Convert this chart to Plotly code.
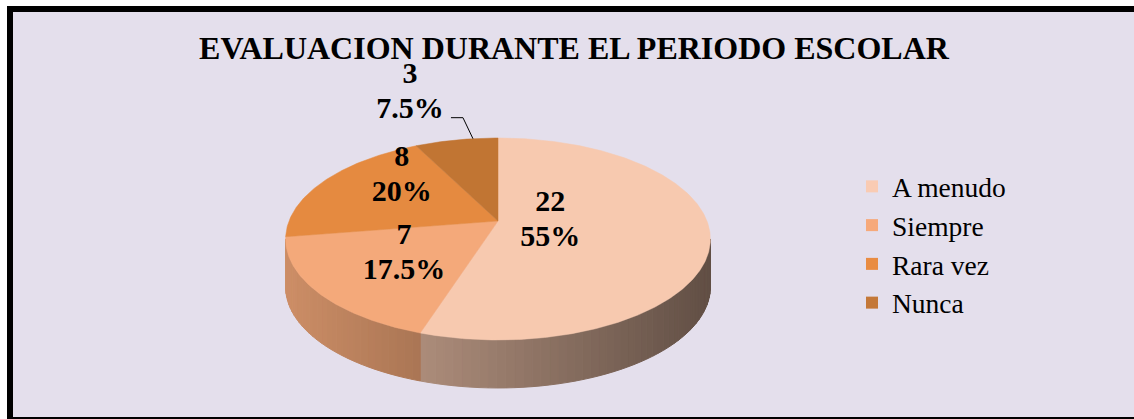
import numpy as np
import plotly.graph_objects as go

# ---------------- data ----------------
categories = ["A menudo", "Siempre", "Rara vez", "Nunca"]
values = [22, 7, 8, 3]
title_text = "EVALUACION DURANTE EL PERIODO ESCOLAR"

# ---------------- styles ----------------
top_colors = ["#F7C9AF", "#F4A97A", "#E58A40", "#C17533"]
legend_colors = ["#F9CBB3", "#F6A97A", "#E98C42", "#C47838"]
label_frac = [0.46, 0.56, 0.75, 0.7]        # where along each slice the label sits
label_radius = [0.25, 0.53, 0.71, None]     # None -> outside label with leader
BG = "#E4DFEC"
FONT = "Liberation Serif"

W, H = 1134, 419
CX, CY = 498.0, 221.0          # apex (pie centre) in pixels
RA, RB, K = 209.0, 97.8, 0.178  # half-width, vertical scale, perspective
DEPTH = 48.0                    # visible side height


def proj(X, Y):
    d = 1.0 + K * Y
    return CX + RA * X / d, CY - RB * Y / d


def rim(t_deg, r=1.0):
    t = np.radians(t_deg)
    return proj(r * np.sin(t), r * np.cos(t))


def hex_rgb(h):
    h = h.lstrip("#")
    return [int(h[i:i + 2], 16) for i in (0, 2, 4)]


def shade(hexcol, x):
    f = 0.84 - 0.00105 * (x - 286.0)
    f = min(max(f, 0.3), 0.95)
    r, g, b = hex_rgb(hexcol)
    return f"rgb({int(r*f)},{int(g*f)},{int(b*f)})"


total = float(sum(values))
fracs = [v / total for v in values]
ends = np.cumsum(fracs) * 360.0
starts = np.concatenate([[0.0], ends[:-1]])
pct_labels = [f"{f*100:g}%" for f in fracs]

fig = go.Figure()

# visible side range (leftmost/rightmost silhouette points)
t_right = np.degrees(np.arctan2(np.sqrt(1 - K * K), -K))
t_left = 360.0 - t_right

# ---- side walls ----
for i, (s, e) in enumerate(zip(starts, ends)):
    a0, a1 = max(s, t_right), min(e, t_left)
    if a1 <= a0:
        continue
    edges = np.arange(a0, a1, 2.0)
    edges = np.append(edges, a1)
    for j in range(len(edges) - 1):
        ts = np.linspace(edges[j], edges[j + 1], 4)
        xs, ys = rim(ts)
        px = np.concatenate([xs, xs[::-1], xs[:1]])
        py = np.concatenate([ys, ys[::-1] + DEPTH, ys[:1]])
        col = shade(top_colors[i], float(np.mean(xs)))
        fig.add_trace(go.Scatter(x=px, y=py, mode="lines", fill="toself",
                                 fillcolor=col, line=dict(color=col, width=1),
                                 hoverinfo="skip", showlegend=False))

# ---- top faces ----
for i, (s, e) in enumerate(zip(starts, ends)):
    ts = np.linspace(s, e, max(int((e - s) * 2), 4))
    xs, ys = rim(ts)
    px = np.concatenate([[CX], xs, [CX]])
    py = np.concatenate([[CY], ys, [CY]])
    fig.add_trace(go.Scatter(x=px, y=py, mode="lines", fill="toself",
                             fillcolor=top_colors[i],
                             line=dict(color=top_colors[i], width=0.5),
                             hoverinfo="skip", showlegend=False))

# ---- labels ----
LINE = 17.5
for i, (s, e) in enumerate(zip(starts, ends)):
    ang = s + label_frac[i] * (e - s)
    if label_radius[i] is not None:
        lx, ly = rim(ang, label_radius[i])
    else:
        rx, ry = rim(ang, 1.0)
        ex, ey = rx - 10, ry - 21
        fx, fy = ex - 12, ey
        fig.add_trace(go.Scatter(x=[rx, ex, fx], y=[ry, ey, fy], mode="lines",
                                 line=dict(color="black", width=1),
                                 hoverinfo="skip", showlegend=False))
        lx, ly = fx - 41, fy - 25
    fig.add_trace(go.Scatter(
        x=[lx, lx], y=[ly - LINE, ly + LINE], mode="text",
        text=[str(values[i]), pct_labels[i]],
        textfont=dict(family=FONT, size=30, color="black", weight="bold"),
        textposition="middle center", hoverinfo="skip", showlegend=False,
        cliponaxis=False))

# ---- legend entries ----
for c, col in zip(categories, legend_colors):
    fig.add_trace(go.Scatter(x=[None], y=[None], mode="markers", name=c,
                             marker=dict(symbol="square", size=15, color=col)))

frame = dict(color="black", width=6)
fig.update_layout(
    width=W, height=H,
    margin=dict(l=0, r=0, t=0, b=0, pad=0, autoexpand=False),
    paper_bgcolor="white", plot_bgcolor="rgba(0,0,0,0)",
    xaxis=dict(range=[0, W], visible=False, fixedrange=True, domain=[0, 1]),
    yaxis=dict(range=[H, 0], visible=False, fixedrange=True, domain=[0, 1]),
    showlegend=True,
    legend=dict(x=852 / W, y=1 - 162 / H, xanchor="left", yanchor="top",
                bgcolor="rgba(0,0,0,0)", font=dict(family=FONT, size=27.5, color="black"),
                itemsizing="constant", tracegroupgap=0),
    title=dict(text=title_text, x=574 / W, xanchor="center",
               y=1 - 48 / H, yanchor="middle",
               font=dict(family=FONT, size=32, color="black", weight="bold")),
    shapes=[
        dict(type="rect", xref="paper", yref="paper", x0=10 / W, y0=0, x1=1, y1=1 - 9 / H,
             line=dict(width=0), fillcolor=BG, layer="below"),
        dict(type="line", xref="paper", yref="paper", x0=7 / W, x1=1, y0=1 - 9 / H, y1=1 - 9 / H,
             line=frame, layer="below"),
        dict(type="line", xref="paper", yref="paper", x0=10 / W, x1=10 / W, y0=0, y1=1 - 6 / H,
             line=frame, layer="below"),
        dict(type="line", xref="paper", yref="paper", x0=7 / W, x1=1, y0=-1 / H, y1=-1 / H,
             line=frame, layer="below"),
    ],
)

fig.write_html("out.html", config={"displayModeBar": False},
               post_script="document.body.style.margin='0';document.body.style.overflow='hidden';")
